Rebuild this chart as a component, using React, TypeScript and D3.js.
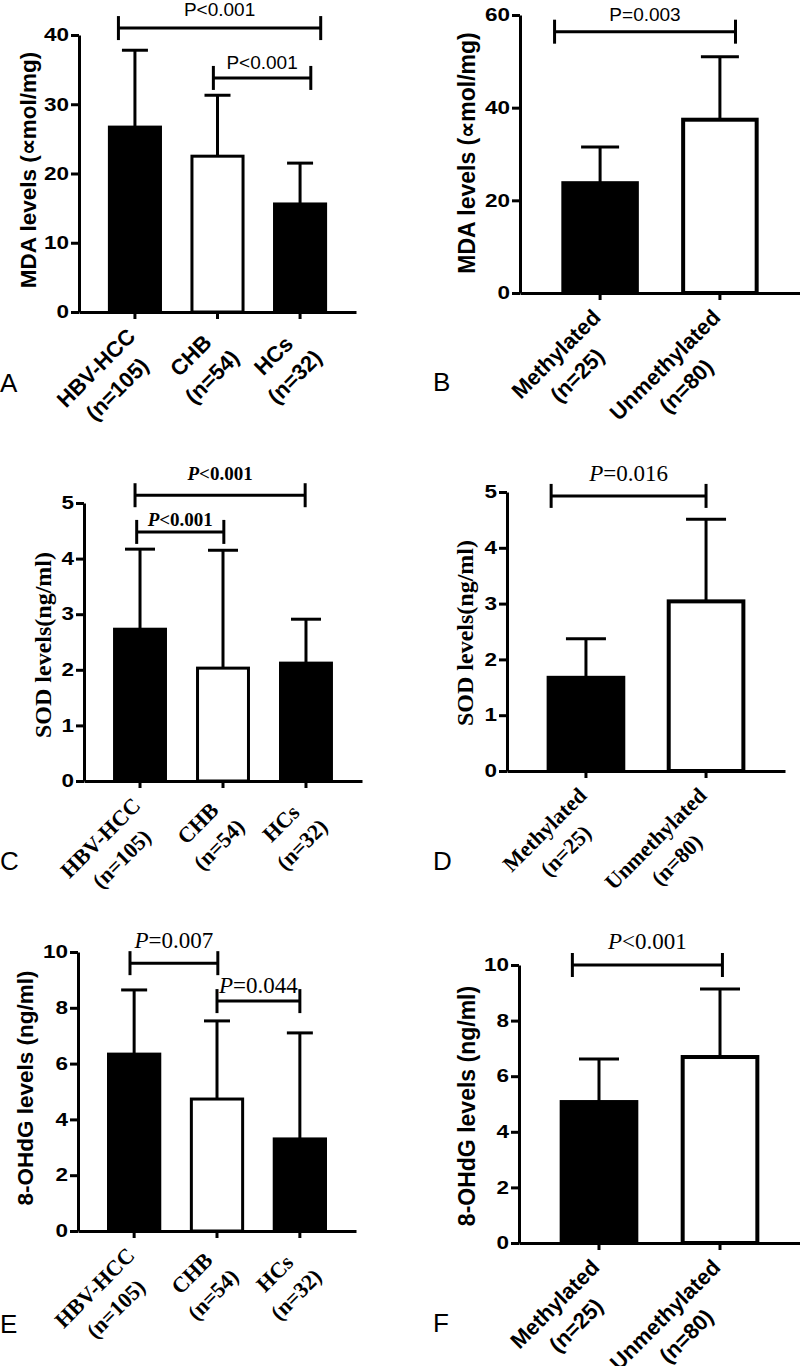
import React, { useEffect, useRef } from "react";
import * as d3 from "d3";

// ---------- data ----------
const groups3 = ["HBV-HCC", "CHB", "HCs"];
const groupsN3 = ["(n=105)", "(n=54)", "(n=32)"];
const groups2 = ["Methylated", "Unmethylated"];
const groupsN2 = ["(n=25)", "(n=80)"];

const mdaGroupMean = [26.7, 22.5, 15.6];
const mdaGroupSD = [11.1, 8.8, 5.9];
const mdaMethMean = [23.7, 37.4];
const mdaMethSD = [7.8, 13.6];
const sodGroupMean = [2.73, 2.03, 2.12];
const sodGroupSD = [1.44, 2.12, 0.79];
const sodMethMean = [1.67, 3.04];
const sodMethSD = [0.7, 1.47];
const ohdgGroupMean = [6.34, 4.73, 3.3];
const ohdgGroupSD = [2.3, 2.8, 3.8];
const ohdgMethMean = [5.07, 6.69];
const ohdgMethSD = [1.55, 2.45];

const ticksMDA = [0, 10, 20, 30, 40];
const ticksMDAMeth = [0, 20, 40, 60];
const ticksSOD = [0, 1, 2, 3, 4, 5];
const ticksOHdG = [0, 2, 4, 6, 8, 10];

// significance brackets (from/to: category index, y: data units)
const sigA = [
  { from: -0.2, to: 2.25, y: 41, pre: "P", label: "<0.001" },
  { from: 0.95, to: 2.13, y: 33.8, pre: "P", label: "<0.001" },
];
const sigB = [{ from: -0.38, to: 1.13, y: 56.4, pre: "P", label: "=0.003" }];
const sigC = [
  { from: -0.06, to: 1.99, y: 5.14, pre: "P", label: "<0.001" },
  { from: -0.04, to: 1.01, y: 4.48, pre: "P", label: "<0.001" },
];
const sigD = [{ from: -0.29, to: 1.0, y: 4.93, pre: "P", label: "=0.016" }];
const sigE = [
  { from: -0.05, to: 1.01, y: 9.6, pre: "P", label: "=0.007" },
  { from: 1.0, to: 2.0, y: 8.24, pre: "P", label: "=0.044" },
];
const sigF = [{ from: -0.22, to: 1.02, y: 10.0, pre: "P", label: "<0.001" }];

// ---------- layout / style ----------
const SANS = "'Liberation Sans', Arial, Helvetica, sans-serif";
const SERIF = "'Liberation Serif', 'Times New Roman', serif";
const TICK_SIZE = 18;
const TICK_STRETCH = 1.25;

type Panel = any;

const panels: Panel[] = [
  {
    letter: "A", letterX: 0, letterY: 392,
    cats: groups3, ns: groupsN3, mean: mdaGroupMean, sd: mdaGroupSD, fills: ["#000", "#fff", "#000"],
    ticks: ticksMDA, yMax: 40, x0: 79, x1: 356, y0: 312, y1: 35, pi: 0.345, po: 0.35,
    yLabel: "MDA levels (\u221Dmol/mg)", yLabelX: 28, yLabelY: 170, yLabelFont: SANS, yLabelSize: 22.5,
    xFont: SANS, xSize: 22, sig: sigA, gaps: [12, 9], pFont: SANS, pSize: 19, pBold: false, pItalic: false,
    barStroke: 3, capW: 26,
  },
  {
    letter: "B", letterX: 433, letterY: 391,
    cats: groups2, ns: groupsN2, mean: mdaMethMean, sd: mdaMethSD, fills: ["#000", "#fff"],
    ticks: ticksMDAMeth, yMax: 60, x0: 520, x1: 800, y0: 293, y1: 15, pi: 0.353, po: 0.345,
    yLabel: "MDA levels (\u221Dmol/mg)", yLabelX: 467, yLabelY: 153, yLabelFont: SANS, yLabelSize: 23,
    xFont: SANS, xSize: 22, sig: sigB, gaps: [11], pFont: SANS, pSize: 19, pBold: false, pItalic: false,
    barStroke: 4, capW: 38,
  },
  {
    letter: "C", letterX: 0, letterY: 870,
    cats: groups3, ns: groupsN3, mean: sodGroupMean, sd: sodGroupSD, fills: ["#000", "#fff", "#000"],
    ticks: ticksSOD, yMax: 5, x0: 84, x1: 362, y0: 781, y1: 503, pi: 0.35, po: 0.35,
    yLabel: "SOD levels(ng/ml)", yLabelX: 43, yLabelY: 645, yLabelFont: SERIF, yLabelSize: 24,
    xFont: SERIF, xSize: 22, sig: sigC, gaps: [15, 6], pFont: SERIF, pSize: 19, pBold: true, pItalic: true,
    barStroke: 3, capW: 30,
  },
  {
    letter: "D", letterX: 433, letterY: 870,
    cats: groups2, ns: groupsN2, mean: sodMethMean, sd: sodMethSD, fills: ["#000", "#fff"],
    ticks: ticksSOD, yMax: 5, x0: 507, x1: 785, y0: 771, y1: 492, pi: 0.345, po: 0.33,
    yLabel: "SOD levels(ng/ml)", yLabelX: 465, yLabelY: 633, yLabelFont: SERIF, yLabelSize: 24,
    xFont: SERIF, xSize: 22, sig: sigD, gaps: [15], pFont: SERIF, pSize: 23, pBold: false, pItalic: true,
    barStroke: 4, capW: 40,
  },
  {
    letter: "E", letterX: 0, letterY: 1333,
    cats: groups3, ns: groupsN3, mean: ohdgGroupMean, sd: ohdgGroupSD, fills: ["#000", "#fff", "#000"],
    ticks: ticksOHdG, yMax: 10, x0: 78, x1: 356, y0: 1231, y1: 952, pi: 0.345, po: 0.35,
    yLabel: "8-OHdG levels (ng/ml)", yLabelX: 25, yLabelY: 1088, yLabelFont: SANS, yLabelSize: 22.5,
    xFont: SERIF, xSize: 22, sig: sigE, gaps: [15, 8], pFont: SERIF, pSize: 23, pBold: false, pItalic: true,
    barStroke: 3, capW: 26,
  },
  {
    letter: "F", letterX: 433, letterY: 1332,
    cats: groups2, ns: groupsN2, mean: ohdgMethMean, sd: ohdgMethSD, fills: ["#000", "#fff"],
    ticks: ticksOHdG, yMax: 10, x0: 519, x1: 800, y0: 1243, y1: 965, pi: 0.35, po: 0.336,
    yLabel: "8-OHdG levels (ng/ml)", yLabelX: 467, yLabelY: 1106, yLabelFont: SANS, yLabelSize: 23,
    xFont: SANS, xSize: 22, sig: sigF, gaps: [16], pFont: SERIF, pSize: 23, pBold: false, pItalic: true,
    barStroke: 4, capW: 40,
  },
];

function drawPanel(svg: d3.Selection<SVGSVGElement, unknown, null, undefined>, p: Panel) {
  const g = svg.append("g");
  const x = d3.scaleBand<string>().domain(p.cats).range([p.x0, p.x1]).paddingInner(p.pi).paddingOuter(p.po);
  const y = d3.scaleLinear().domain([0, p.yMax]).range([p.y0, p.y1]);
  const bw = x.bandwidth();
  const step = x.step();
  const cx = (i: number) => (x(p.cats[0]) as number) + bw / 2 + i * step;

  // bars
  g.selectAll("rect.bar")
    .data(p.mean as number[])
    .join("rect")
    .attr("x", (_d, i) => (x(p.cats[i]) as number) + p.barStroke / 2)
    .attr("width", bw - p.barStroke)
    .attr("y", (d) => y(d))
    .attr("height", (d) => y(0) - y(d))
    .attr("fill", (_d, i) => p.fills[i])
    .attr("stroke", "#000")
    .attr("stroke-width", p.barStroke);

  // error bars (upper only)
  const eb = g.selectAll("g.err").data(p.mean as number[]).join("g");
  eb.append("line")
    .attr("x1", (_d, i) => cx(i)).attr("x2", (_d, i) => cx(i))
    .attr("y1", (d) => y(d)).attr("y2", (d, i) => y(d + p.sd[i]))
    .attr("stroke", "#000").attr("stroke-width", 3);
  eb.append("line")
    .attr("x1", (_d, i) => cx(i) - p.capW / 2).attr("x2", (_d, i) => cx(i) + p.capW / 2)
    .attr("y1", (d, i) => y(d + p.sd[i])).attr("y2", (d, i) => y(d + p.sd[i]))
    .attr("stroke", "#000").attr("stroke-width", 3);

  // y axis
  const ya = g.append("g").attr("transform", `translate(${p.x0},0)`)
    .call(d3.axisLeft(y).tickValues(p.ticks).tickSize(8).tickSizeOuter(0).tickPadding(2).tickFormat(d3.format("d")));
  ya.select(".domain").attr("stroke-width", 3).attr("stroke", "#000");
  ya.selectAll(".tick line").attr("stroke-width", 3).attr("stroke", "#000");
  ya.selectAll(".tick text")
    .attr("font-family", SANS).attr("font-weight", "bold").attr("font-size", TICK_SIZE).attr("fill", "#000")
    .attr("x", -10 / TICK_STRETCH)
    .attr("transform", `scale(${TICK_STRETCH},1)`);

  // x axis
  const xa = g.append("g").attr("transform", `translate(0,${p.y0})`)
    .call(d3.axisBottom(x).tickSize(7).tickSizeOuter(0).tickFormat(() => ""));
  xa.select(".domain").attr("stroke-width", 3).attr("stroke", "#000");
  xa.selectAll(".tick line").attr("stroke-width", 3).attr("stroke", "#000");

  // x labels, rotated -45, two centered lines
  const lh = 30;
  p.cats.forEach((c: string, i: number) => {
    const lines = [c, p.ns[i]];
    const lg = g.append("g").attr("transform", `translate(${cx(i) + 7},${p.y0 + 31}) rotate(-45)`);
    const texts = lines.map((t, k) =>
      lg.append("text")
        .attr("font-family", p.xFont).attr("font-weight", "bold").attr("font-size", p.xSize)
        .attr("text-anchor", "middle")
        .attr("y", (k - (lines.length - 1) / 2) * lh + p.xSize * 0.35)
        .text(t)
    );
    const W = d3.max(texts, (t) => (t.node() as SVGTextElement).getComputedTextLength()) || 0;
    texts.forEach((t) => t.attr("x", -W / 2));
  });

  // y label
  g.append("text")
    .attr("transform", `translate(${p.yLabelX},${p.yLabelY}) rotate(-90)`)
    .attr("text-anchor", "middle").attr("dominant-baseline", "central")
    .attr("font-family", p.yLabelFont).attr("font-weight", "bold").attr("font-size", p.yLabelSize)
    .text(p.yLabel);

  // significance brackets
  p.sig.forEach((s: any, k: number) => {
    const xa1 = cx(s.from), xa2 = cx(s.to), yy = y(s.y);
    g.append("line").attr("x1", xa1).attr("x2", xa2).attr("y1", yy).attr("y2", yy)
      .attr("stroke", "#000").attr("stroke-width", 3);
    [xa1, xa2].forEach((xx) =>
      g.append("line").attr("x1", xx).attr("x2", xx).attr("y1", yy - 12).attr("y2", yy + 12)
        .attr("stroke", "#000").attr("stroke-width", 3)
    );
    const t = g.append("text")
      .attr("x", (xa1 + xa2) / 2).attr("y", yy - p.gaps[k])
      .attr("text-anchor", "middle")
      .attr("font-family", p.pFont).attr("font-size", p.pSize)
      .attr("font-weight", p.pBold ? "bold" : "normal");
    t.append("tspan").attr("font-style", p.pItalic ? "italic" : "normal").text(s.pre);
    t.append("tspan").text(s.label);
  });

  // panel letter
  g.append("text").attr("x", p.letterX).attr("y", p.letterY)
    .attr("font-family", SANS).attr("font-size", 26).text(p.letter);
}

export default function App() {
  const ref = useRef<SVGSVGElement>(null);
  useEffect(() => {
    const svg = d3.select(ref.current as SVGSVGElement);
    svg.selectAll("*").remove();
    panels.forEach((p) => drawPanel(svg, p));
  }, []);
  return (
    <svg
      ref={ref}
      width={800}
      height={1366}
      viewBox="0 0 800 1366"
      style={{ position: "absolute", left: 0, top: 0, background: "#fff" }}
    />
  );
}
